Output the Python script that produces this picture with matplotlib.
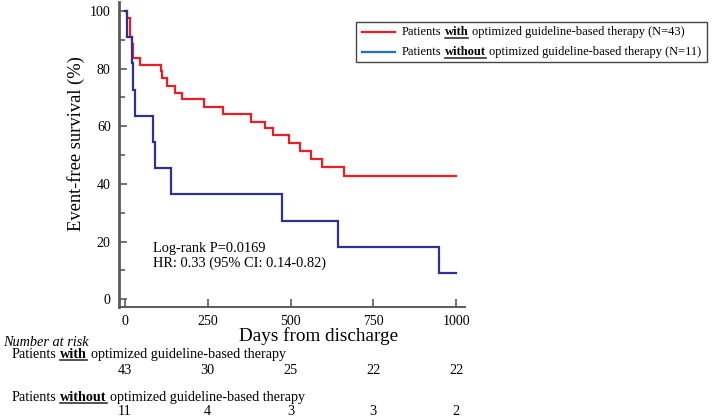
import matplotlib
matplotlib.use("Agg")
import matplotlib.pyplot as plt
from matplotlib.lines import Line2D
from matplotlib.patches import Rectangle
from matplotlib.transforms import IdentityTransform, blended_transform_factory

# ---------------- data ----------------
red_t = [0, 7, 15, 20, 24, 45, 108, 112, 126, 151, 171, 240, 297, 381, 423, 448, 496, 529, 563, 596, 662, 1000]
red_s = [100, 97.7, 90.8, 88.4, 83.7, 81.4, 79.3, 76.6, 74.1, 71.6, 69.3, 66.7, 64.1, 61.6, 59.3, 56.8, 54.2, 51.4, 48.5, 45.7, 42.9, 42.9]
blue_t = [0, 5, 22, 25, 30, 86, 92, 139, 473, 642, 949, 1000]
blue_s = [100, 90.9, 81.8, 72.7, 63.6, 54.5, 45.5, 36.4, 27.3, 18.2, 9.1, 9.1]

x_ticks = [0, 250, 500, 750, 1000]
y_ticks = [0, 20, 40, 60, 80, 100]
risk_with = [43, 30, 25, 22, 22]
risk_without = [11, 4, 3, 3, 2]

RED = "#ee1c25"
NAVY = "#2e3192"
LEG_BLUE = "#1f6fc5"
GRAY = "#5a5a5a"

plt.rcParams["font.family"] = ["Liberation Serif", "DejaVu Serif"]

W, H = 713, 419
fig = plt.figure(figsize=(W / 100, H / 100), dpi=100)

# axes: left spine at x=119px, right end 465px; top y=2px, bottom y=307px (from top)
ax = fig.add_axes([119 / W, (H - 307) / H, (465 - 119) / W, (307 - 2) / H])
ax.set_xlim(-18, 1027)
ax.set_ylim(-2.7, 103.1)

ax.plot(red_t, red_s, drawstyle="steps-post", color=RED, lw=1.6, solid_joinstyle="miter")
ax.plot(blue_t, blue_s, drawstyle="steps-post", color=NAVY, lw=1.6, solid_joinstyle="miter")

for s in ["top", "right"]:
    ax.spines[s].set_visible(False)
ax.spines["left"].set_color(GRAY)
ax.spines["left"].set_linewidth(2.0)
ax.spines["bottom"].set_color(GRAY)
ax.spines["bottom"].set_linewidth(1.4)

ax.set_xticks(x_ticks)
ax.set_yticks(y_ticks)
ax.set_yticks([10, 30, 50, 70, 90], minor=True)
ax.tick_params(axis="both", which="major", direction="in", length=6, width=1.2,
               color=GRAY, labelsize=10)
ax.tick_params(axis="y", which="minor", direction="in", length=4, width=1.2, color=GRAY)
ax.tick_params(axis="x", pad=6)
ax.tick_params(axis="y", pad=6)

fig.text(76 / W, 1 - 144 / H, "Event-free survival (%)", rotation=90,
         ha="center", va="center", fontsize=13.3)
fig.text(319 / W, 1 - 341 / H, "Days from discharge", ha="center", va="baseline", fontsize=13.8)

fig.text(153 / W, 1 - 248 / H, "Log-rank P=0.0169", ha="left", va="center", fontsize=10.4)
fig.text(153 / W, 1 - 263 / H, "HR: 0.33 (95% CI: 0.14-0.82)", ha="left", va="center", fontsize=10.4)

renderer = fig.canvas.get_renderer()


def measure(s, **kw):
    t = fig.text(0, 0, s, transform=IdentityTransform(), **kw)
    bb = t.get_window_extent(renderer)
    t.remove()
    return bb.width


def rich(x, ytop, parts, size):
    """parts: list of (string, bold_underline). Positions in pixels, y from top."""
    y = H - ytop
    sp = measure("x x", fontsize=size) - measure("xx", fontsize=size)
    cx = x
    for s, bu in parts:
        kw = dict(fontsize=size, fontweight="bold" if bu else "normal")
        fig.text(cx, y, s, transform=IdentityTransform(), ha="left", va="center", **kw)
        w = measure(s, **kw)
        if bu:
            fig.add_artist(Line2D([cx, cx + w], [y - size * 0.62, y - size * 0.62],
                                  transform=IdentityTransform(), color="#333333", lw=1.2))
        cx += w + sp


# legend
fig.add_artist(Rectangle((356, H - 62), 707 - 356, 40, transform=IdentityTransform(),
                         fill=False, edgecolor="#444444", lw=1.0))
fig.add_artist(Line2D([362, 395], [H - 32, H - 32], transform=IdentityTransform(), color=RED, lw=1.6))
fig.add_artist(Line2D([362, 395], [H - 52, H - 52], transform=IdentityTransform(), color=LEG_BLUE, lw=1.6))
rich(402, 32, [("Patients", False), ("with", True), ("optimized guideline-based therapy (N=43)", False)], 9.0)
rich(402, 52, [("Patients", False), ("without", True), ("optimized guideline-based therapy (N=11)", False)], 9.0)

# number at risk table
fig.text(3 / W, 1 - 342 / H, "Number at risk", style="italic", ha="left", va="center", fontsize=10.3)
rich(12, 354, [("Patients", False), ("with", True), ("optimized guideline-based therapy", False)], 10.2)
rich(12, 397, [("Patients", False), ("without", True), ("optimized guideline-based therapy", False)], 10.2)

bt = blended_transform_factory(ax.transData, fig.transFigure)
for xv, n in zip(x_ticks, risk_with):
    fig.text(xv, 1 - 370 / H, str(n), transform=bt, ha="center", va="center", fontsize=10.3)
for xv, n in zip(x_ticks, risk_without):
    fig.text(xv, 1 - 411 / H, str(n), transform=bt, ha="center", va="center", fontsize=10.3)

fig.savefig("out.png", dpi=100)
